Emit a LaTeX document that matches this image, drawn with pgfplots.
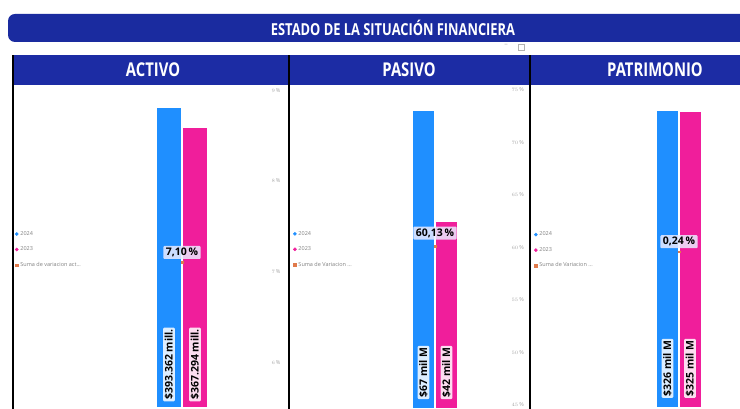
\documentclass[border=0pt]{standalone}
\usepackage{fontspec}
\setmainfont{Open Sans}
\newfontfamily\headfont[FakeStretch=0.78]{Open Sans}
\usepackage{pgfplots}
\pgfplotsset{compat=1.18}
\definecolor{titleblue}{HTML}{1A2B9F}
\definecolor{headblue}{HTML}{1C2CA4}
\definecolor{barblue}{HTML}{1F8FFF}
\definecolor{barpink}{HTML}{F01E9B}
\definecolor{lineorange}{HTML}{E07A4B}
\tikzset{
  lbl/.style={fill=blue!8!white, fill opacity=0.85, text opacity=1, text=black, inner xsep=2.5pt, inner ysep=2pt,
    rounded corners=1pt, font=\bfseries\fontsize{10.5}{10.5}\selectfont, anchor=center},
  blbl/.style={fill=white, fill opacity=0.85, text opacity=1, text=black, inner sep=1.5pt,
    rounded corners=1pt, font=\bfseries\fontsize{10.5}{10.5}\selectfont, rotate=90, anchor=west},
}
\pgfplotsset{
  prim/.style={scale only axis, height=322pt, hide axis, ymin=0, clip=false},
  sec/.style={scale only axis, height=322pt, axis x line=none, axis y line*=right,
    axis line style={draw=none}, major tick length=0pt, clip=false,
    yticklabel style={font=\fontsize{5.5}{5.5}\selectfont, text=gray!70},
    yticklabel={\pgfmathprintnumber{\tick}\,\%},
    legend style={draw=none, fill=none, anchor=north west,
      font=\fontsize{5.5}{6}\selectfont, text=gray, row sep=6pt, inner sep=0pt,
      cells={anchor=west}},
    legend image code/.code={\draw[#1] plot coordinates {(0pt,0pt)};}},
}
\begin{document}
\begin{tikzpicture}[x=1pt,y=1pt]
\path[use as bounding box] (0,0) rectangle (740,409);
% title bar
\fill[titleblue, rounded corners=7pt] (8,367) rectangle (760,395);
\node[text=white, font=\headfont\bfseries\fontsize{16.5}{17}\selectfont] at (393,381) {ESTADO DE LA SITUACIÓN FINANCIERA};
\node[text=gray!60, font=\fontsize{7}{7}\selectfont] at (506,364) {--};
\draw[gray!60, line width=0.5pt] (518,359) rectangle (524,365);
% headers
\fill[headblue] (12,324) rectangle (740,354);
\node[text=white, font=\headfont\fontsize{19}{19}\selectfont] at (153,339) {\textbf{ACTIVO}};
\node[text=white, font=\headfont\fontsize{19}{19}\selectfont] at (409,339) {\textbf{PASIVO}};
\node[text=white, font=\headfont\fontsize{19}{19}\selectfont] at (655,339) {\textbf{PATRIMONIO}};

% ---------- ACTIVO ----------
\begin{axis}[prim, at={(16,2)}, anchor=south west, width=252pt, xmin=16, xmax=268, ymax=423620]
\addplot[ybar, bar width=24, bar shift=0pt, fill=barblue, draw=none] coordinates {(169,393362)};
\addplot[ybar, bar width=24, bar shift=0pt, fill=barpink, draw=none] coordinates {(195,367294)};
\node[blbl] at (axis cs:169,7900) {\$393.362 mill.};
\node[blbl] at (axis cs:195,7900) {\$367.294 mill.};
\end{axis}
\begin{axis}[sec, at={(16,2)}, anchor=south west, width=252pt, xmin=16, xmax=268,
  ymin=5.504, ymax=9.055, ytick={6,7,8,9},
  legend style={at={(-0.004,0.553)}}]
\addlegendimage{only marks, mark=*, mark size=1.6pt, barblue}
\addlegendentry{2024}
\addlegendimage{only marks, mark=*, mark size=1.6pt, barpink}
\addlegendentry{2023}
\addlegendimage{only marks, mark=square*, mark size=1.3pt, lineorange}
\addlegendentry{Suma de variacion act...}
\addplot[only marks, mark=square*, mark size=0.8pt, lineorange, forget plot,
  nodes near coords={{7,10\,\%}}, nodes near coords style={lbl, yshift=10pt}] coordinates {(182,7.10)};
\end{axis}

% ---------- PASIVO ----------
\begin{axis}[prim, at={(292,2)}, anchor=south west, width=216pt, xmin=292, xmax=508, ymax=72.64]
\addplot[ybar, bar width=21, bar shift=0pt, fill=barblue, draw=none] coordinates {(423.5,67)};
\addplot[ybar, bar width=21, bar shift=0pt, fill=barpink, draw=none] coordinates {(446.5,42)};
\node[blbl] at (axis cs:423.5,2.0) {\$67 mil M};
\node[blbl] at (axis cs:446.5,2.0) {\$42 mil M};
\end{axis}
\begin{axis}[sec, at={(292,2)}, anchor=south west, width=216pt, xmin=292, xmax=508,
  ymin=44.81, ymax=75.48, ytick={45,50,...,75},
  legend style={at={(0.005,0.553)}}]
\addlegendimage{only marks, mark=*, mark size=1.6pt, barblue}
\addlegendentry{2024}
\addlegendimage{only marks, mark=*, mark size=1.6pt, barpink}
\addlegendentry{2023}
\addlegendimage{only marks, mark=square*, mark size=1.3pt, lineorange}
\addlegendentry{Suma de Variacion ...}
\addplot[only marks, mark=square*, mark size=0.8pt, lineorange, forget plot,
  nodes near coords={{60,13\,\%}}, nodes near coords style={lbl, yshift=13pt}] coordinates {(435,60.13)};
\end{axis}

% ---------- PATRIMONIO ----------
\begin{axis}[prim, at={(533,2)}, anchor=south west, width=207pt, xmin=533, xmax=740, ymax=354.6]
\addplot[ybar, bar width=21, bar shift=0pt, fill=barblue, draw=none] coordinates {(667.5,326)};
\addplot[ybar, bar width=21, bar shift=0pt, fill=barpink, draw=none] coordinates {(690,325)};
\node[blbl] at (axis cs:667.5,10) {\$326 mil M};
\node[blbl] at (axis cs:690,10) {\$325 mil M};
\end{axis}
\begin{axis}[sec, at={(533,2)}, anchor=south west, width=207pt, xmin=533, xmax=740,
  ymin=0, ymax=0.4954, ytick=\empty,
  legend style={at={(0.005,0.553)}}]
\addlegendimage{only marks, mark=*, mark size=1.6pt, barblue}
\addlegendentry{2024}
\addlegendimage{only marks, mark=*, mark size=1.6pt, barpink}
\addlegendentry{2023}
\addlegendimage{only marks, mark=square*, mark size=1.3pt, lineorange}
\addlegendentry{Suma de Variacion ...}
\addplot[only marks, mark=square*, mark size=0.8pt, lineorange, forget plot,
  nodes near coords={{0,24\,\%}}, nodes near coords style={lbl, yshift=10pt}] coordinates {(679,0.24)};
\end{axis}

% panel borders
\draw[black, line width=2.5pt] (13,0) -- (13,354);
\draw[black, line width=2.5pt] (289,0) -- (289,354);
\draw[black, line width=2.5pt] (530,0) -- (530,354);
\end{tikzpicture}
\end{document}
